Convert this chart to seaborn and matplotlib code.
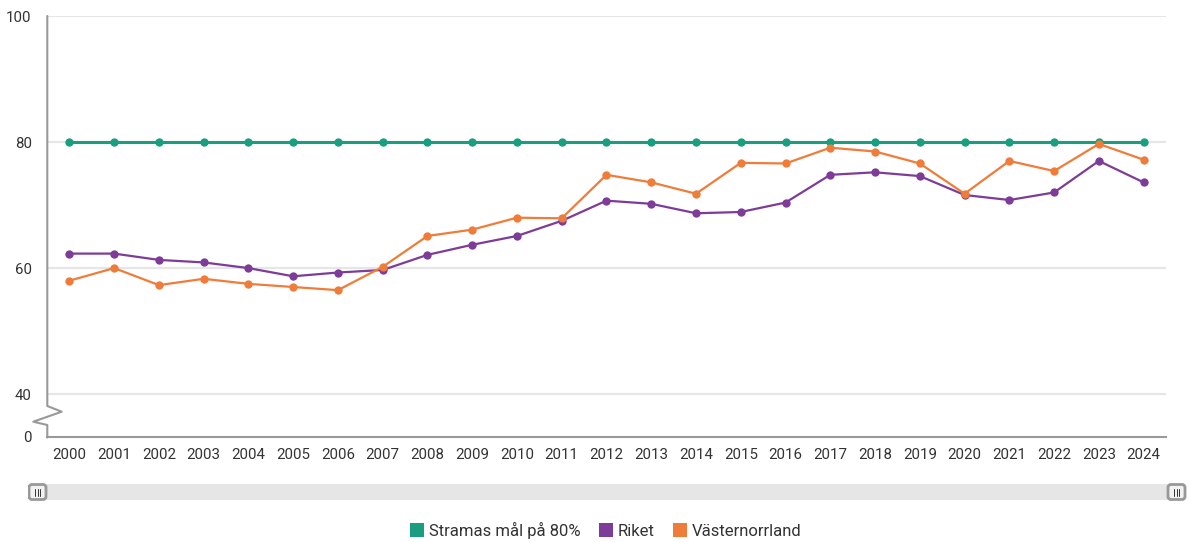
import pandas as pd
import matplotlib.pyplot as plt
import matplotlib.patches as mpatches
from matplotlib.lines import Line2D
import seaborn as sns

# --- DATA ---
YEARS = list(range(2000, 2025))
MAL = [80] * len(YEARS)
RIKET = [62.3, 62.3, 61.3, 60.9, 60.0, 58.7, 59.3, 59.7, 62.1, 63.7, 65.1, 67.5,
         70.7, 70.2, 68.7, 68.9, 70.4, 74.8, 75.2, 74.6, 71.6, 70.8, 72.0, 77.0, 73.6]
VASTERNORRLAND = [58.0, 60.0, 57.3, 58.3, 57.5, 57.0, 56.5, 60.2, 65.1, 66.1, 68.0, 67.9,
                  74.8, 73.6, 71.8, 76.7, 76.6, 79.1, 78.5, 76.6, 71.8, 77.0, 75.4, 79.7, 77.2]
SERIES = ["Stramas mål på 80%", "Riket", "Västernorrland"]
COLORS = ["#1a9e80", "#7d3c98", "#f07c3a"]
Y_TICKS = [40, 60, 80, 100]
Y_BOTTOM = 33.2  # broken axis: bottom of axis is labelled 0

W, H = 1188, 542


def fx(px):
    return px / W


def fy(py):
    return 1 - py / H


df = pd.DataFrame({
    "year": YEARS * 3,
    "value": MAL + RIKET + VASTERNORRLAND,
    "series": [SERIES[0]] * len(YEARS) + [SERIES[1]] * len(YEARS) + [SERIES[2]] * len(YEARS),
})

sns.set_style("white")
plt.rcParams['font.family'] = ['Roboto', 'DejaVu Sans']

fig = plt.figure(figsize=(W / 100, H / 100), dpi=100)
ax = fig.add_axes([fx(47), fy(437), fx(1166) - fx(47), fy(16) - fy(437)])

for yv in Y_TICKS:
    ax.axhline(yv, color="#e6e6e6", linewidth=1.6, zorder=0)

sns.lineplot(data=df, x="year", y="value", hue="series", hue_order=SERIES,
             palette=COLORS, marker="o", markersize=6, markeredgewidth=0,
             linewidth=1.6, ax=ax, legend=False, sort=False)
# goal line a bit thicker
ax.lines[len(Y_TICKS)].set_linewidth(2.2)

ax.set_xlim(YEARS[0] - 0.5, YEARS[-1] + 0.5)
ax.set_ylim(Y_BOTTOM, 100)
ax.set_xticks(YEARS)
ax.set_xticklabels([str(y) for y in YEARS])
ax.set_yticks([Y_BOTTOM] + Y_TICKS)
ax.set_yticklabels(["0"] + [str(v) for v in Y_TICKS])
ax.set_xlabel("")
ax.set_ylabel("")

for s in ["top", "right", "left"]:
    ax.spines[s].set_visible(False)
ax.spines["bottom"].set_color("#999999")
ax.spines["bottom"].set_linewidth(1.5)

ax.tick_params(axis="x", length=5, width=1.2, color="#999999", labelsize=10.8,
               labelcolor="#333333", pad=3)
ax.tick_params(axis="y", length=0, labelsize=10.8, labelcolor="#333333", pad=11)

# left spine with the break zigzag
fig.add_artist(Line2D(
    [fx(47.3), fx(47.3), fx(61.7), fx(33.3), fx(47.3), fx(47.3)],
    [fy(16), fy(406), fy(411.7), fy(421.7), fy(425), fy(437.5)],
    color="#999999", linewidth=1.5, transform=fig.transFigure))

# scrollbar
sb = fig.add_axes([fx(28), fy(501), fx(1187) - fx(28), fy(483) - fy(501)])
sb.set_xlim(0, 1159)
sb.set_ylim(0, 18)
sb.axis("off")
sb.add_patch(mpatches.Rectangle((2, 1), 1155, 16, color="#e6e6e6", linewidth=0))
for x0 in [1, 1140]:
    sb.add_patch(mpatches.FancyBboxPatch((x0, 1.5), 17, 15,
                                         boxstyle="round,pad=0,rounding_size=3",
                                         facecolor="#f2f2f2", edgecolor="#999999",
                                         linewidth=2, mutation_aspect=1))
    for dx in [-2.5, 0, 2.5]:
        sb.plot([x0 + 8.5 + dx] * 2, [5.5, 12.5], color="#333333", linewidth=0.7)

# legend
handles = [Line2D([0], [0], marker="s", linestyle="", markersize=10,
                  markerfacecolor=c, markeredgewidth=0) for c in COLORS]
fig.legend(handles, SERIES, loc="center", bbox_to_anchor=(fx(606), fy(530)), ncol=3,
           frameon=False, fontsize=12, handlelength=0.8, handletextpad=0.3,
           columnspacing=1.15, labelcolor="#333333")

plt.savefig("out.png", dpi=100)
